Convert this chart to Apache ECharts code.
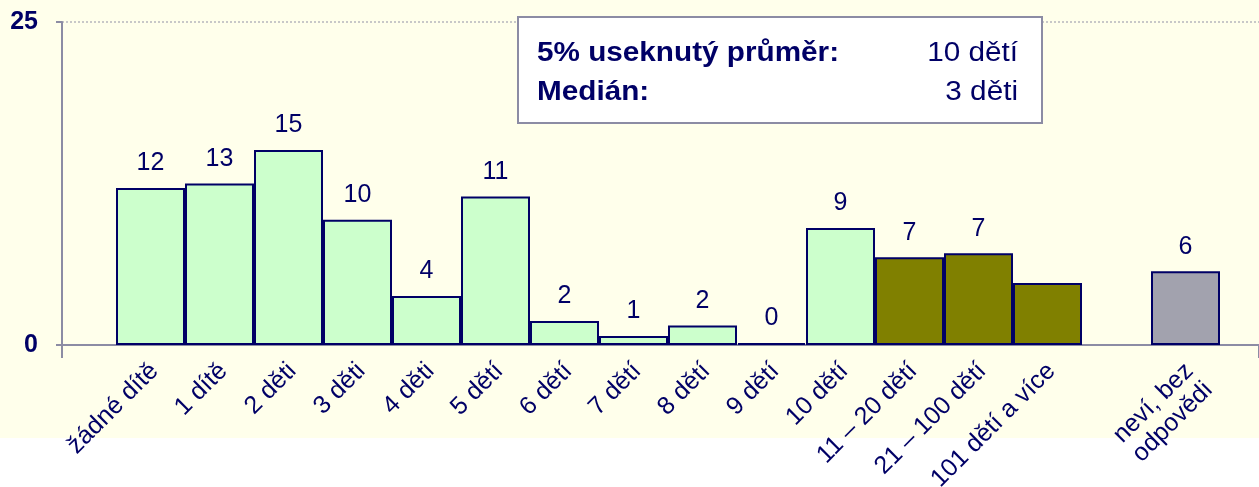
<!DOCTYPE html>
<html>
<head>
<meta charset="utf-8">
<script src="https://cdn.jsdelivr.net/npm/echarts@6/dist/echarts.min.js"></script>
<style>
  html, body { margin: 0; padding: 0; background: #ffffff; }
  #chart { width: 1259px; height: 487px; }
</style>
</head>
<body>
<div id="chart"></div>
<script>
// categories (one empty slot before the last bar)
var categories = [
  "žádné dítě", "1 dítě", "2 děti", "3 děti", "4 děti", "5 dětí", "6 dětí",
  "7 dětí", "8 dětí", "9 dětí", "10 dětí", "11 – 20 dětí", "21 – 100 dětí",
  "101 dětí a více", "", "neví, bez\nodpovědi"
];
// bar heights as drawn
var barValues = [12.15, 12.5, 15.1, 9.7, 3.8, 11.5, 1.85, 0.7, 1.5, 0.15, 9.05, 6.8, 7.1, 4.8, null, 5.7];
// labels printed above the bars
var barLabels = ["12", "13", "15", "10", "4", "11", "2", "1", "2", "0", "9", "7", "7", "", "", "6"];
// group of each bar: exact count, range, no answer
var barGroups = ["n", "n", "n", "n", "n", "n", "n", "n", "n", "n", "n", "r", "r", "r", "", "x"];
var yTicks = [0, 25];
var statNames = ["5% useknutý průměr:", "Medián:"];
var statValues = ["10 dětí", "3 děti"];

var navy = "#000066";
var axisGray = "#8c8ca4";
var fontFamily = "'Liberation Sans', Arial, sans-serif";
var groupColors = { n: "#ccffcc", r: "#808000", x: "#a2a2ae" };

var myChart = echarts.init(document.getElementById("chart"));

var seriesData = barValues.map(function (v, i) {
  return {
    value: v,
    itemStyle: { color: groupColors[barGroups[i]] || "#ccffcc" }
  };
});

// stats box text, slightly widened like the original
var statGraphics = [];
statNames.forEach(function (name, i) {
  statGraphics.push({
    type: "text",
    x: 537,
    y: 54 + i * 39,
    scaleX: 1.1,
    z: 101,
    style: {
      text: name, fill: navy, font: "bold 27px " + fontFamily,
      align: "left", verticalAlign: "middle"
    }
  });
  statGraphics.push({
    type: "text",
    x: 1018,
    y: 54 + i * 39,
    scaleX: 1.1,
    z: 101,
    style: {
      text: statValues[i], fill: navy, font: "27px " + fontFamily,
      align: "right", verticalAlign: "middle"
    }
  });
});

myChart.setOption({
  animation: false,
  textStyle: { fontFamily: fontFamily },
  graphic: [
    {
      type: "rect",
      left: 0,
      top: 0,
      z: -10,
      shape: { width: 1259, height: 438 },
      style: { fill: "#ffffeb" },
      silent: true
    },
    {
      type: "rect",
      left: 517,
      top: 16,
      z: 100,
      shape: { width: 524, height: 106 },
      style: { fill: "#ffffff", stroke: axisGray, lineWidth: 2 }
    }
  ].concat(statGraphics),
  grid: [
    { left: 116, right: 39, top: 22, bottom: 142, outerBoundsMode: "none" },
    { left: 62, right: 0, top: 22, bottom: 142, outerBoundsMode: "none" }
  ],
  xAxis: [
    {
      type: "category",
      gridIndex: 0,
      data: categories,
      axisLine: { show: false },
      axisTick: { show: false },
      axisLabel: {
        interval: 0,
        rotate: 45,
        margin: 7,
        padding: [0, 8, 0, 0],
        verticalAlign: "top",
        color: navy,
        fontSize: 25,
        lineHeight: 27
      }
    },
    {
      type: "value",
      gridIndex: 1,
      min: 0,
      max: 1,
      interval: 1,
      axisLine: { show: true, lineStyle: { color: axisGray, width: 2 } },
      axisTick: { show: true, length: 13, lineStyle: { color: axisGray, width: 2 } },
      axisLabel: { show: false },
      splitLine: { show: false }
    }
  ],
  yAxis: [
    {
      type: "value",
      gridIndex: 0,
      min: 0,
      max: 25,
      interval: 25,
      show: false,
      splitLine: { show: false }
    },
    {
      type: "value",
      gridIndex: 1,
      min: yTicks[0],
      max: yTicks[yTicks.length - 1],
      interval: 25,
      axisLine: { show: true, lineStyle: { color: axisGray, width: 2 } },
      axisTick: { show: true, length: 6, lineStyle: { color: axisGray, width: 2 } },
      axisLabel: {
        margin: 24,
        color: navy,
        fontSize: 25,
        fontWeight: "bold"
      },
      splitLine: { show: true, lineStyle: { color: "#c8c8c8", type: "dotted", width: 2 } }
    }
  ],
  series: [
    {
      type: "bar",
      xAxisIndex: 0,
      yAxisIndex: 0,
      barWidth: "100%",
      data: seriesData,
      itemStyle: { borderColor: navy, borderWidth: 2 },
      label: {
        show: true,
        position: "top",
        distance: 12,
        color: navy,
        fontSize: 25,
        formatter: function (p) {
          return barLabels[p.dataIndex];
        }
      }
    }
  ]
});
</script>
</body>
</html>
